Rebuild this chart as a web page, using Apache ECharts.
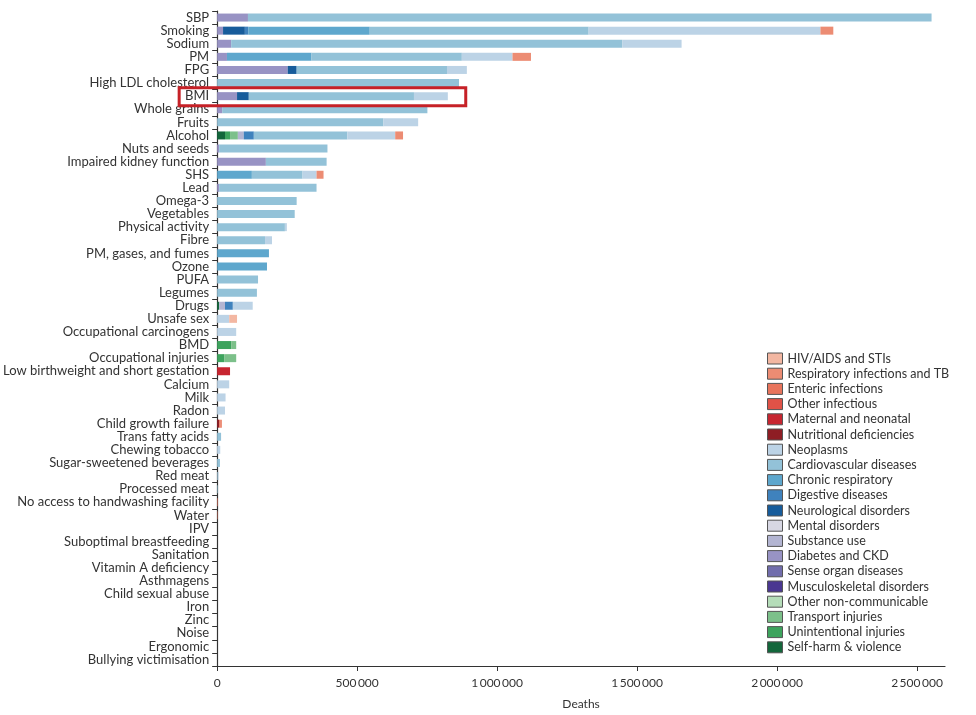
<!DOCTYPE html>
<html>
<head>
<meta charset="utf-8">
<script src="https://cdn.jsdelivr.net/npm/echarts@6/dist/echarts.min.js"></script>
<style>
html,body{margin:0;padding:0;background:#fff;}
#chart{width:976px;height:715px;}
</style>
</head>
<body>
<div id="chart"></div>
<script>
const categories = ["SBP","Smoking","Sodium","PM","FPG","High LDL cholesterol","BMI","Whole grains","Fruits","Alcohol",
"Nuts and seeds","Impaired kidney function","SHS","Lead","Omega-3","Vegetables","Physical activity","Fibre","PM, gases, and fumes","Ozone",
"PUFA","Legumes","Drugs","Unsafe sex","Occupational carcinogens","BMD","Occupational injuries","Low birthweight and short gestation","Calcium","Milk",
"Radon","Child growth failure","Trans fatty acids","Chewing tobacco","Sugar-sweetened beverages","Red meat","Processed meat","No access to handwashing facility","Water","IPV",
"Suboptimal breastfeeding","Sanitation","Vitamin A deficiency","Asthmagens","Child sexual abuse","Iron","Zinc","Noise","Ergonomic","Bullying victimisation"];

const xTicks = [0, 500000, 1000000, 1500000, 2000000, 2500000];

// legend order (top to bottom)
const legendNames = ["HIV/AIDS and STIs","Respiratory infections and TB","Enteric infections","Other infectious","Maternal and neonatal","Nutritional deficiencies",
"Neoplasms","Cardiovascular diseases","Chronic respiratory","Digestive diseases","Neurological disorders","Mental disorders","Substance use",
"Diabetes and CKD","Sense organ diseases","Musculoskeletal disorders","Other non-communicable","Transport injuries","Unintentional injuries","Self-harm & violence"];

// values per cause, one per category (same order as categories)
//                    SBP     Smok    Sod     PM      FPG     LDL     BMI     WG      Fruit   Alc     Nuts    Kid     SHS     Lead    Om3     Veg     PA      Fib     PMg     Oz      PUFA    Leg     Drug    Sex     OcC     BMD     OcI     LBW     Ca      Milk    Rad     CGF     TFA     Chew    SSB     RM      PrM     Hand    Wat     IPV     BF San VitA Ast CSA Fe Zn Noi Erg Bul
const selfHarm      = [0,     0,      0,      0,      0,      0,      0,      0,      0,      28000,  0,      0,      0,      0,      0,      0,      0,      0,      0,      0,      0,      0,      7000,   0,      0,      0,      0,      0,      0,      0,      0,      0,      0,      0,      0,      0,      0,      0,      0,      0,      0,0,0,0,0,0,0,0,0,0];
const unintentional = [0,     0,      0,      0,      0,      0,      0,      0,      0,      18000,  0,      0,      0,      0,      0,      0,      0,      0,      0,      0,      0,      0,      0,      0,      0,      50000,  25000,  0,      0,      0,      0,      0,      0,      0,      0,      0,      0,      0,      0,      0,      0,0,0,0,0,0,0,0,0,0];
const transport     = [0,     0,      0,      0,      0,      0,      0,      0,      0,      28000,  0,      0,      0,      0,      0,      0,      0,      0,      0,      0,      0,      0,      0,      0,      0,      18000,  43000,  0,      0,      0,      0,      0,      0,      0,      0,      0,      0,      0,      0,      0,      0,0,0,0,0,0,0,0,0,0];
const otherNCD      = [0,     0,      0,      0,      0,      0,      0,      0,      0,      0,      0,      0,      0,      0,      0,      0,      0,      0,      0,      0,      0,      0,      0,      0,      0,      0,      0,      0,      0,      0,      0,      0,      0,      0,      0,      0,      0,      0,      0,      0,      0,0,0,0,0,0,0,0,0,0];
const musculo       = [0,     0,      0,      0,      0,      0,      0,      0,      0,      0,      0,      0,      0,      0,      0,      0,      0,      0,      0,      0,      0,      0,      0,      0,      0,      0,      0,      0,      0,      0,      0,      0,      0,      0,      0,      0,      0,      0,      0,      0,      0,0,0,0,0,0,0,0,0,0];
const senseOrgan    = [0,     0,      0,      0,      0,      0,      0,      0,      0,      0,      0,      0,      0,      0,      0,      0,      0,      0,      0,      0,      0,      0,      0,      0,      0,      0,      0,      0,      0,      0,      0,      0,      0,      0,      0,      0,      0,      0,      0,      0,      0,0,0,0,0,0,0,0,0,0];
const diabetes      = [110000,21000,  50000,  35000,  252000, 0,      71000,  18000,  0,      0,      7000,   174000, 0,      7000,   0,      0,      0,      0,      0,      0,      0,      0,      0,      0,      0,      0,      0,      0,      0,      0,      0,      0,      0,      0,      0,      0,      0,      0,      0,      0,      0,0,0,0,0,0,0,0,0,0];
const substance     = [0,     0,      0,      0,      0,      0,      0,      0,      0,      21000,  0,      0,      0,      0,      0,      0,      0,      0,      0,      0,      0,      0,      21000,  0,      0,      0,      0,      0,      0,      0,      0,      0,      0,      0,      0,      0,      0,      0,      0,      0,      0,0,0,0,0,0,0,0,0,0];
const mental        = [0,     0,      0,      0,      0,      0,      0,      0,      0,      0,      0,      0,      0,      0,      0,      0,      0,      0,      0,      0,      0,      0,      0,      0,      0,      0,      0,      0,      0,      0,      0,      0,      0,      0,      0,      0,      0,      0,      0,      0,      0,0,0,0,0,0,0,0,0,0];
const neuro         = [0,     78000,  0,      0,      32000,  0,      42000,  0,      0,      0,      0,      0,      0,      0,      0,      0,      0,      0,      0,      0,      0,      0,      0,      0,      0,      0,      0,      0,      0,      0,      0,      0,      0,      0,      0,      0,      0,      0,      0,      0,      0,0,0,0,0,0,0,0,0,0];
const digestive     = [0,     12000,  0,      0,      0,      0,      0,      0,      0,      36000,  0,      0,      0,      0,      0,      0,      0,      0,      0,      0,      0,      0,      28000,  0,      0,      0,      0,      0,      0,      0,      0,      0,      0,      0,      0,      0,      0,      0,      0,      0,      0,0,0,0,0,0,0,0,0,0];
const chronicResp   = [0,     434000, 0,      302000, 0,      0,      0,      0,      0,      0,      0,      0,      124000, 0,      0,      0,      0,      0,      185000, 178000, 0,      0,      0,      0,      0,      0,      0,      0,      0,      0,      0,      0,      0,      0,      0,      0,      0,      0,      0,      0,      0,0,0,0,0,0,0,0,0,0];
const cardio        = [2442000,782000,1397000,537000, 537000, 864000, 590000, 733000, 594000, 334000, 387000, 217000, 181000, 348000, 284000, 277000, 242000, 171000, 0,      0,      146000, 142000, 0,      0,      0,      0,      0,      0,      0,      0,      0,      0,      14000,  0,      10000,  2000,   2000,   0,      0,      0,      0,0,0,0,0,0,0,0,0,0];
const neoplasms     = [0,     828000, 212000, 181000, 71000,  0,      121000, 0,      124000, 171000, 0,      0,      50000,  0,      0,      0,      7000,   25000,  0,      0,      0,      0,      71000,  43000,  68000,  0,      0,      0,      43000,  30000,  28000,  0,      0,      11000,  0,      3000,   0,      0,      0,      0,      0,0,0,0,0,0,0,0,0,0];
const nutritional   = [0,     0,      0,      0,      0,      0,      0,      0,      0,      0,      0,      0,      0,      0,      0,      0,      0,      0,      0,      0,      0,      0,      0,      0,      0,      0,      0,      0,      0,      0,      0,      7000,   0,      0,      0,      0,      0,      0,      0,      0,      0,0,0,0,0,0,0,0,0,0];
const maternal      = [0,     0,      0,      0,      0,      0,      0,      0,      0,      0,      0,      0,      0,      0,      0,      0,      0,      0,      0,      0,      0,      0,      0,      0,      0,      0,      0,      46000,  0,      0,      0,      0,      0,      0,      0,      0,      0,      0,      0,      0,      0,0,0,0,0,0,0,0,0,0];
const otherInfect   = [0,     0,      0,      0,      0,      0,      0,      0,      0,      0,      0,      0,      0,      0,      0,      0,      0,      0,      0,      0,      0,      0,      0,      0,      0,      0,      0,      0,      0,      0,      0,      0,      0,      0,      0,      0,      0,      0,      0,      0,      0,0,0,0,0,0,0,0,0,0];
const enteric       = [0,     0,      0,      0,      0,      0,      0,      0,      0,      0,      0,      0,      0,      0,      0,      0,      0,      0,      0,      0,      0,      0,      0,      0,      0,      0,      0,      0,      0,      0,      0,      6000,   0,      0,      0,      0,      0,      2000,   1500,   0,      0,0,0,0,0,0,0,0,0,0];
const respInfect    = [0,     46000,  0,      66000,  0,      0,      0,      0,      0,      28000,  0,      0,      25000,  0,      0,      0,      0,      0,      0,      0,      0,      0,      0,      0,      0,      0,      0,      0,      0,      0,      0,      4000,   0,      0,      0,      0,      0,      0,      0,      0,      0,0,0,0,0,0,0,0,0,0];
const hivSTI        = [0,     0,      0,      0,      0,      0,      0,      0,      0,      0,      0,      0,      0,      0,      0,      0,      0,      0,      0,      0,      0,      0,      0,      28000,  0,      0,      0,      0,      0,      0,      0,      0,      0,      0,      0,      0,      0,      0,      0,      0,      0,0,0,0,0,0,0,0,0,0];

// stacking order (left to right)
const stackSeries = [
  ["Self-harm & violence", selfHarm, "#13663b"],
  ["Unintentional injuries", unintentional, "#3da35d"],
  ["Transport injuries", transport, "#7cc08a"],
  ["Other non-communicable", otherNCD, "#b5ddb9"],
  ["Musculoskeletal disorders", musculo, "#4a3791"],
  ["Sense organ diseases", senseOrgan, "#716dac"],
  ["Diabetes and CKD", diabetes, "#9893c4"],
  ["Substance use", substance, "#b3b5d2"],
  ["Mental disorders", mental, "#d7d7e3"],
  ["Neurological disorders", neuro, "#175c9b"],
  ["Digestive diseases", digestive, "#3f82bd"],
  ["Chronic respiratory", chronicResp, "#5ea7cd"],
  ["Cardiovascular diseases", cardio, "#93c2d8"],
  ["Neoplasms", neoplasms, "#bcd3e6"],
  ["Nutritional deficiencies", nutritional, "#8e1d24"],
  ["Maternal and neonatal", maternal, "#c72530"],
  ["Other infectious", otherInfect, "#e05247"],
  ["Enteric infections", enteric, "#e8745c"],
  ["Respiratory infections and TB", respInfect, "#ec8c73"],
  ["HIV/AIDS and STIs", hivSTI, "#f3b7a2"]
];

const fmt = v => String(v).replace(/\B(?=(\d{3})+(?!\d))/g, '\u2009');
const FONT = 'Lato';

const chart = echarts.init(document.getElementById('chart'), null, {renderer:'canvas'});
const series = stackSeries.map(s => ({
  name: s[0], type: 'bar', stack: 'total', data: s[1],
  itemStyle: {color: s[2]}, barWidth: 8, emphasis:{disabled:true}
}));

chart.setOption({
  animation: false,
  backgroundColor: '#fff',
  textStyle: {fontFamily: FONT},
  grid: {left: 216, right: 31, top: 11, bottom: 49, containLabel: false},
  xAxis: {
    type: 'value', min: 0, max: 2600000,
    name: 'Deaths', nameLocation: 'middle', nameGap: 32,
    nameTextStyle: {fontFamily: FONT, fontSize: 12, color: '#333'},
    axisLine: {show: true, lineStyle: {color: '#333', width: 1.2}},
    axisTick: {show: true, length: 5, lineStyle: {color: '#333'}, customValues: xTicks},
    axisLabel: {fontFamily: FONT, fontSize: 12, color: '#333', margin: 11, formatter: fmt, customValues: xTicks},
    splitLine: {show: false}
  },
  yAxis: {
    type: 'category', data: categories, inverse: true,
    axisLine: {show: true, lineStyle: {color: '#333', width: 1.2}},
    axisTick: {show: true, length: 5, lineStyle: {color: '#333'}},
    axisLabel: {fontFamily: FONT, fontSize: 13, color: '#333', margin: 8, interval: 0}
  },
  legend: {
    orient: 'vertical', left: 767, top: 352,
    data: legendNames,
    itemWidth: 15, itemHeight: 11, itemGap: 2.2,
    itemStyle: {borderColor: '#555', borderWidth: 1},
    textStyle: {fontFamily: FONT, fontSize: 12.5, color: '#333', padding: [0,0,0,0]},
    icon: 'rect', selectedMode: false, padding: 0
  },
  series: series
});

// highlight box round BMI row (annotation)
const yBMI = chart.convertToPixel({yAxisIndex: 0}, 'BMI');
const x0 = chart.convertToPixel({xAxisIndex: 0}, 0);
const x1 = chart.convertToPixel({xAxisIndex: 0}, 888000);
chart.setOption({
  graphic: [{
    type: 'rect', z: 100,
    shape: {x: x0 - 38, y: yBMI - 8.5, width: x1 - x0 + 38, height: 18},
    style: {fill: 'none', stroke: '#c62127', lineWidth: 3}
  }]
});
</script>
</body>
</html>
